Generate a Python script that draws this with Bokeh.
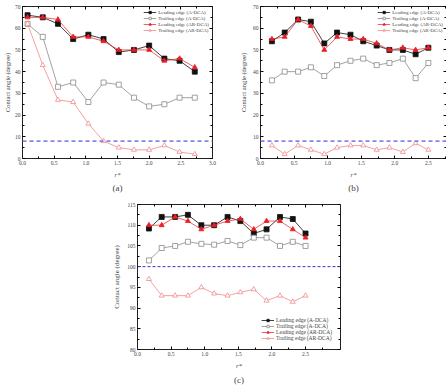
from bokeh.plotting import figure
from bokeh.models import (Span, Legend, LegendItem, LinearAxis, Range1d, Title,
                          FixedTicker, NumeralTickFormatter, CustomJSTickFormatter)
from bokeh.layouts import column, row
from bokeh.embed import file_html
from bokeh.resources import INLINE

FONT = "Liberation Serif"

# ---- panel (a) ----
r_a = [0.08, 0.32, 0.56, 0.80, 1.04, 1.28, 1.52, 1.76, 2.00, 2.24, 2.48, 2.72]
a_lead_adca = [66, 65, 62, 55, 57, 55, 49, 50, 52, 46, 45, 40]
a_trail_adca = [62, 56, 33, 35, 26, 35, 34, 28, 24, 25, 28, 28]
a_lead_ardca = [65, 65, 64, 56, 56, 54, 50, 50, 50, 45, 46, 42]
a_trail_ardca = [62, 43, 27, 26, 16, 8, 5, 4, 4, 6, 3, 2]
a_limit = 8

# ---- panel (b) ----
r_b = [0.17, 0.36, 0.56, 0.75, 0.95, 1.14, 1.34, 1.53, 1.73, 1.92, 2.12, 2.31, 2.50]
b_lead_adca = [54, 58, 64, 63, 53, 58, 57, 54, 52, 50, 50, 48, 51]
b_trail_adca = [36, 40, 40, 42, 38, 43, 45, 46, 43, 44, 46, 37, 44]
b_lead_ardca = [55, 56, 64, 61, 50, 56, 55, 55, 53, 50, 51, 50, 51]
b_trail_ardca = [6, 2, 6, 4, 2, 5, 6, 6, 4, 5, 3, 7, 4]
b_limit = 8

# ---- panel (c) ----
r_c = [0.17, 0.36, 0.56, 0.75, 0.95, 1.14, 1.34, 1.53, 1.73, 1.92, 2.12, 2.31, 2.50]
c_lead_adca = [109.2, 112, 112, 112.5, 110, 110, 112, 111, 108, 109, 112, 111.5, 108]
c_trail_adca = [101.5, 104.5, 105, 106, 105.5, 105.3, 106.2, 105.2, 107, 107, 105, 106, 105]
c_lead_ardca = [110, 110, 112, 111, 109, 110, 111, 111.5, 109, 111, 111, 109, 107]
c_trail_ardca = [97, 93, 93, 93, 95, 93.5, 93, 93.8, 94.5, 91.8, 93, 91.5, 93]
c_limit = 100

labels = ["Leading edge (A-DCA)", "Trailing edge (A-DCA)",
          "Leading edge (AR-DCA)", "Trailing edge (AR-DCA)"]

# line colour, marker, marker fill
styles = [
    ("#111111", "square", "#111111"),
    ("#8a8a8a", "square", "white"),
    ("#e83a3a", "triangle", "#ee1c24"),
    ("#f08a8a", "triangle", "white"),
]

BLANK = CustomJSTickFormatter(code="return ''")


def panel(x, series, limit, xr, yr, xticks, xminor, yticks, yminor, yfmt,
          fw, fh, borders, caption, legend_loc, legend_margin,
          tick_fs, label_fs, legend_fs, limit_style, offset_left=0, ylabel_standoff=3):
    top, right, bottom, left = borders
    p = figure(frame_width=fw, frame_height=fh, x_range=Range1d(*xr), y_range=Range1d(*yr),
               min_border_top=top, min_border_right=right, min_border_bottom=bottom,
               min_border_left=left, margin=(0, 0, 0, offset_left), output_backend="svg",
               toolbar_location=None, background_fill_color="white",
               border_fill_color="white")
    p.xgrid.visible = False
    p.ygrid.visible = False
    p.outline_line_color = None

    xt = FixedTicker(ticks=xticks, minor_ticks=xminor)
    yt = FixedTicker(ticks=yticks, minor_ticks=yminor)
    for ax, t, fmt in ((p.xaxis[0], xt, "0.0"), (p.yaxis[0], yt, yfmt)):
        ax.ticker = t
        ax.formatter = NumeralTickFormatter(format=fmt)
        ax.major_tick_in = 3
        ax.major_tick_out = 0
        ax.minor_tick_in = 2
        ax.minor_tick_out = 0
        ax.major_label_text_font = FONT
        ax.major_label_text_font_size = tick_fs
        ax.major_label_standoff = 2
        ax.axis_label_text_font = FONT
        ax.axis_label_text_font_size = label_fs
        ax.axis_label_text_font_style = "normal"
        ax.axis_label_standoff = 3
        ax.axis_line_color = "#222222"
    p.xaxis[0].axis_label = "r*"
    p.xaxis[0].axis_label_text_font_style = "italic"
    p.yaxis[0].axis_label = "Contact angle (degree)"
    p.yaxis[0].axis_label_standoff = ylabel_standoff

    # tick-only frame axes on the top and right sides
    for loc, t in (("right", yt), ("above", xt)):
        ax = LinearAxis(ticker=t, formatter=BLANK, major_label_standoff=0,
                        major_tick_in=3, major_tick_out=0, minor_tick_in=2,
                        minor_tick_out=0, axis_line_color="#222222")
        p.add_layout(ax, loc)

    color, dash, width = limit_style
    p.add_layout(Span(location=limit, dimension="width", line_color=color,
                      line_dash=dash, line_width=width))

    items = []
    for ys, (lc, mk, fill), lab in zip(series, styles, labels):
        ln = p.line(x, ys, line_color=lc, line_width=0.8)
        sc = p.scatter(x, ys, marker=mk, size=5, line_color=lc if fill == "white" else fill,
                       fill_color=fill, line_width=0.8)
        items.append(LegendItem(label=lab, renderers=[ln, sc]))
    legend = Legend(items=items, location=legend_loc, margin=legend_margin,
                    label_text_font=FONT, label_text_font_size=legend_fs,
                    glyph_width=13, glyph_height=6, label_height=6, spacing=0,
                    padding=1, label_standoff=2, border_line_color=None,
                    background_fill_alpha=0)
    p.add_layout(legend)

    p.add_layout(Title(text=caption, align="center", text_font=FONT,
                       text_font_size="9px", text_font_style="normal",
                       standoff=0), "below")
    return p


ticks_x3 = [0, 0.5, 1.0, 1.5, 2.0, 2.5, 3.0]
minor_x3 = [0.25, 0.75, 1.25, 1.75, 2.25, 2.75]
ticks_x25 = [0, 0.5, 1.0, 1.5, 2.0, 2.5]
ticks_y70 = list(range(0, 71, 10))
minor_y70 = list(range(5, 70, 10))

pa = panel(r_a, [a_lead_adca, a_trail_adca, a_lead_ardca, a_trail_ardca], a_limit,
           (0, 3.0), (0, 70), ticks_x3, minor_x3, ticks_y70, minor_y70, "0",
           190, 152, (6, 12, 38, 16), "(a)", "top_right", 3,
           "5.5px", "6.5px", "5px", ("#8585e6", "4 3", 1.6), ylabel_standoff=1)

pb = panel(r_b, [b_lead_adca, b_trail_adca, b_lead_ardca, b_trail_ardca], b_limit,
           (0, 2.77), (0, 70), ticks_x25, minor_x3, ticks_y70, minor_y70, "0",
           186, 152, (6, 3, 38, 36), "(b)", "top_right", 3,
           "5.5px", "6.5px", "5px", ("#8585e6", "4 3", 1.6))

pc = panel(r_c, [c_lead_adca, c_trail_adca, c_lead_ardca, c_trail_ardca], c_limit,
           (0, 3.02), (80, 115), ticks_x25, minor_x3, list(range(80, 116, 5)),
           [82.5 + 5 * i for i in range(7)], "0",
           203, 145, (8, 10, 41, 30), "(c)", "bottom_right", 8,
           "5.5px", "7px", "5.5px", ("#3a3ab8", "3 2", 1.0), offset_left=107)

layout = column(row(pa, pb, spacing=0), pc, spacing=0)

open("out.html", "w").write(file_html(layout, INLINE))
